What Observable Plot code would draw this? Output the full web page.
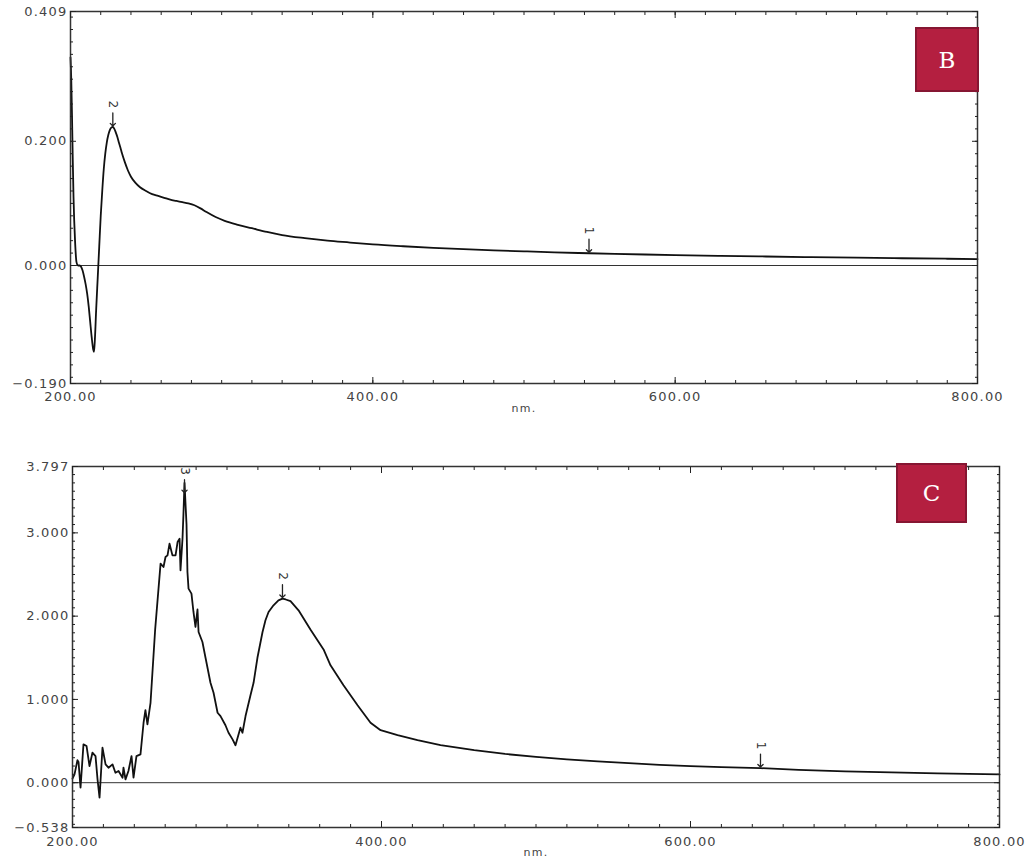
<!DOCTYPE html>
<html>
<head>
<meta charset="utf-8">
<script src="https://cdn.jsdelivr.net/npm/d3@7"></script>
<script src="https://cdn.jsdelivr.net/npm/@observablehq/plot@0.6"></script>
<style>
  body { margin: 0; background: #fff; }
  #wrap { position: relative; width: 1025px; height: 861px; overflow: hidden; background: #fff; }
  .panel { position: absolute; left: 0; }
  .badge { position: absolute; box-sizing: border-box; background: #B41F40; border: 2px solid #861632;
           color: #fff; font-family: "DejaVu Serif", "Liberation Serif", serif; font-size: 23px;
           display: flex; align-items: center; justify-content: center; }
</style>
</head>
<body>
<div id="wrap">
  <div id="panelB" class="panel" style="top:0"></div>
  <div id="panelC" class="panel" style="top:420px"></div>
  <div class="badge" style="left:915px;top:27px;width:64px;height:65px">B</div>
  <div class="badge" style="left:896px;top:463px;width:71px;height:60px">C</div>
</div>
<script>
// ---------- Data ----------
// Panel B spectrum (wavelength nm, absorbance)
const bNm = [200, 200.5, 201, 201.5, 202, 203, 204, 205, 206, 207, 208, 209, 210, 211, 212, 213, 214, 215, 215.5, 216, 217, 218, 219, 220, 221, 222, 223, 224, 225, 226, 227, 228, 229, 230, 231, 232, 233, 234, 236, 238, 240, 243, 246, 250, 254, 258, 262, 266, 270, 274, 278, 282, 286, 290, 296, 302, 310, 320, 330, 340, 355, 370, 385, 400, 420, 440, 460, 480, 500, 520, 543, 560, 580, 600, 630, 660, 690, 720, 750, 780, 800];
const bAbs = [0.335, 0.30, 0.24, 0.17, 0.11, 0.04, 0.005, 0.0, 0.0, -0.002, -0.008, -0.018, -0.03, -0.045, -0.065, -0.09, -0.115, -0.135, -0.139, -0.125, -0.07, -0.02, 0.03, 0.08, 0.12, 0.155, 0.18, 0.198, 0.21, 0.218, 0.222, 0.223, 0.22, 0.214, 0.207, 0.198, 0.19, 0.181, 0.166, 0.153, 0.143, 0.133, 0.126, 0.12, 0.115, 0.112, 0.109, 0.106, 0.104, 0.102, 0.100, 0.097, 0.092, 0.086, 0.078, 0.072, 0.066, 0.060, 0.054, 0.049, 0.044, 0.040, 0.037, 0.034, 0.031, 0.0285, 0.0264, 0.0245, 0.0228, 0.0212, 0.0197, 0.0187, 0.0177, 0.0168, 0.0156, 0.0145, 0.0135, 0.0126, 0.0117, 0.0109, 0.0104];
const bPeakNm = [543, 228];
const bPeakAbs = [0.0197, 0.223];
const bPeakLabel = ["1", "2"];
const bYLabels = [0.409, 0.200, 0.000, -0.190];
const bYMajor = [0.2, 0, 0.409, -0.19];
const bYMinor = d3.range(-18, 41, 2).map(d => d / 100);
const bYDomain = [-0.19, 0.409];

// Panel C spectrum
const cNm = [200, 201.3, 203.2, 203.9, 205.2, 207.1, 209.1, 211, 212.9, 214.9, 216.2, 217.5, 219.4, 221.4, 223.3, 225.9, 227.8, 229.8, 232.4, 233, 234.3, 236.2, 238.2, 239.5, 241.4, 244, 246, 247.2, 248.5, 250.5, 253.5, 257, 258.9, 260.2, 261.5, 262.8, 264.7, 266.7, 268, 269.3, 269.9, 271.2, 271.8, 272.5, 273.8, 274.4, 275.1, 277, 278.3, 279.6, 280.9, 281.6, 284.1, 286.1, 289.3, 291.3, 293.9, 295.8, 299, 301, 303.6, 305.5, 308.7, 310, 312, 315.2, 317.2, 319.7, 323, 324.9, 326.9, 330.1, 333.3, 335.9, 338, 341.1, 346.3, 354, 362.5, 367, 375.4, 384.5, 392.9, 399.4, 410.4, 423.3, 438.2, 460, 480, 500, 520, 540, 560, 580, 600, 620, 645.3, 670, 700, 730, 760, 800];
const cAbs = [0.05, 0.1, 0.27, 0.25, -0.06, 0.46, 0.44, 0.2, 0.36, 0.32, 0.04, -0.18, 0.42, 0.22, 0.18, 0.22, 0.12, 0.14, 0.06, 0.18, 0.04, 0.14, 0.32, 0.06, 0.32, 0.34, 0.72, 0.87, 0.70, 0.96, 1.84, 2.63, 2.59, 2.71, 2.73, 2.87, 2.73, 2.73, 2.89, 2.93, 2.55, 2.93, 3.22, 3.6, 3.10, 2.53, 2.33, 2.27, 2.05, 1.87, 2.08, 1.81, 1.69, 1.5, 1.2, 1.08, 0.84, 0.8, 0.69, 0.6, 0.52, 0.45, 0.66, 0.6, 0.8, 1.05, 1.2, 1.5, 1.81, 1.95, 2.05, 2.13, 2.19, 2.21, 2.2, 2.18, 2.07, 1.84, 1.6, 1.41, 1.17, 0.93, 0.72, 0.63, 0.57, 0.51, 0.45, 0.39, 0.345, 0.31, 0.28, 0.255, 0.235, 0.215, 0.20, 0.188, 0.175, 0.155, 0.137, 0.124, 0.113, 0.10];
const cPeakNm = [645.3, 335.9, 272.5];
const cPeakAbs = [0.175, 2.21, 3.47];
const cPeakLabel = ["1", "2", "3"];
const cYLabels = [3.797, 3.000, 2.000, 1.000, 0.000, -0.538];
const cYMajor = [3.797, 3, 2, 1, 0, -0.538];
const cYMinor = d3.range(-5, 38, 1).map(d => d / 10);
const cYDomain = [-0.538, 3.797];

// Shared x axis
const xLabels = [200, 400, 600, 800];
const xMinor = d3.range(200, 801, 20);
const xTitle = "nm.";

// ---------- Drawing ----------
const font = "'DejaVu Sans', 'Liberation Sans', Arial, sans-serif";
const blank = () => "";

function panel({nm, abs, pNm, pAbs, pLabel, yDomain, yLabels, yMajor, yMinor, height, ml, mr, mt, mb, xPad, titleDy, curve}) {
  const data = nm.map((x, i) => ({x, y: abs[i]}));
  const peaks = pNm.map((x, i) => ({x, y: pAbs[i], label: pLabel[i]}));
  return Plot.plot({
    width: 1025, height,
    marginLeft: ml, marginRight: mr, marginTop: mt, marginBottom: mb,
    x: {domain: [200, 800]},
    y: {domain: yDomain},
    style: {fontFamily: font, background: "white", color: "#222", overflow: "visible", letterSpacing: "1.2px"},
    marks: [
      Plot.ruleY([0], {stroke: "#333", strokeWidth: 1}),
      Plot.line(data, {x: "x", y: "y", stroke: "#111", strokeWidth: 1.8, strokeLinejoin: "round", curve}),
      Plot.frame({stroke: "#333", strokeWidth: 1.5}),
      // minor ticks (inward) on all sides
      Plot.axisX(xMinor, {anchor: "bottom", tickSize: -3, tickFormat: blank, label: null}),
      Plot.axisX(xMinor, {anchor: "top", tickSize: -3, tickFormat: blank, label: null}),
      Plot.axisY(yMinor, {anchor: "left", tickSize: -3, tickFormat: blank, label: null}),
      Plot.axisY(yMinor, {anchor: "right", tickSize: -3, tickFormat: blank, label: null}),
      // major ticks
      Plot.axisX(xLabels, {anchor: "bottom", tickSize: -6, tickFormat: blank, label: null}),
      Plot.axisX(xLabels, {anchor: "top", tickSize: -6, tickFormat: blank, label: null}),
      Plot.axisY(yMajor, {anchor: "left", tickSize: -6, tickFormat: blank, label: null}),
      Plot.axisY(yMajor, {anchor: "right", tickSize: -6, tickFormat: blank, label: null}),
      // tick labels
      Plot.axisX(xLabels, {anchor: "bottom", tickSize: 0, tickPadding: xPad, tickFormat: d3.format(".2f"), fontSize: 13, fill: "#444", label: null}),
      Plot.axisY(yLabels, {anchor: "left", tickSize: 0, tickPadding: 3, tickFormat: d3.format(".3f"), fontSize: 13, fill: "#444", label: null}),
      Plot.text([xTitle], {frameAnchor: "bottom", dy: titleDy, fontSize: 11, fill: "#444"}),
      // peak markers
      Plot.vector(peaks, {x: "x", y: "y", length: 13, rotate: 180, anchor: "end", shape: "arrow", stroke: "#222", strokeWidth: 1.3, dy: -1}),
      Plot.text(peaks, {x: "x", y: "y", text: "label", rotate: 90, dy: -22, fontSize: 12, fill: "#333"})
    ]
  });
}

document.getElementById("panelB").append(panel({
  nm: bNm, abs: bAbs, pNm: bPeakNm, pAbs: bPeakAbs, pLabel: bPeakLabel,
  yDomain: bYDomain, yLabels: bYLabels, yMajor: bYMajor, yMinor: bYMinor,
  height: 420, ml: 70, mr: 48, mt: 11, mb: 37, xPad: 8, titleDy: 28, curve: "monotone-x"
}));
document.getElementById("panelC").append(panel({
  nm: cNm, abs: cAbs, pNm: cPeakNm, pAbs: cPeakAbs, pLabel: cPeakLabel,
  yDomain: cYDomain, yLabels: cYLabels, yMajor: cYMajor, yMinor: cYMinor,
  height: 441, ml: 72, mr: 26, mt: 46, mb: 34, xPad: 9, titleDy: 28, curve: "linear"
}));
</script>
</body>
</html>
